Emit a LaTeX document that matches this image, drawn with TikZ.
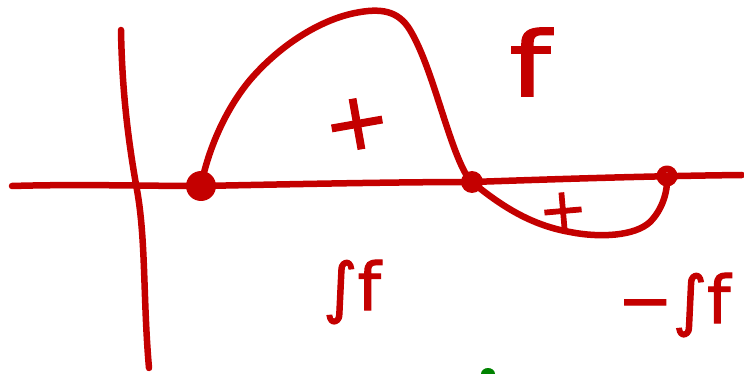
\documentclass[tikz,border=0pt]{standalone}
\usepackage{fontspec}
\newfontfamily\hand[FakeBold=1.6]{DejaVu Sans}
\definecolor{pen}{RGB}{196,0,0}
\definecolor{gpen}{RGB}{0,130,0}
\tikzset{
  stroke/.style={draw=pen, line width=6.5pt, line cap=round, line join=round},
  dotmark/.style={circle, fill=pen, inner sep=0pt},
  lbl/.style={text=pen, inner sep=0pt, font=\hand}
}
\begin{document}
\begin{tikzpicture}[x=1pt,y=-1pt]
\useasboundingbox (0,0) rectangle (744,374);
% axes
\coordinate (xl) at (12,186);
\coordinate (xr) at (742,175);
\coordinate (yt) at (121,30);
\coordinate (yb) at (149,368);
\draw[stroke] (xl) .. controls (80,184) and (140,186) .. (201,186)
  .. controls (300,184) and (400,182) .. (472,182)
  .. controls (560,179) and (650,176) .. (xr);
\draw[stroke] (yt) .. controls (122,90) and (128,140) .. (137,190)
  .. controls (146,240) and (143,300) .. (yb);
% dots
\node[dotmark, minimum size=30pt] (p1) at (201,186) {};
\node[dotmark, minimum size=22pt] (p2) at (472,182) {};
\draw[stroke, line width=7pt] (667,176) circle (7pt);
\coordinate (p3) at (667,176);
% upper hump
\draw[stroke] (p1.center) .. controls (208,150) and (225,110) .. (250,80)
  .. controls (280,45) and (320,20) .. (355,13)
  .. controls (380,8) and (398,10) .. (410,30)
  .. controls (428,60) and (440,110) .. (455,150)
  .. controls (462,168) and (466,176) .. (p2.center);
% lower dip
\draw[stroke] (p2.center) .. controls (500,205) and (530,225) .. (570,232)
  .. controls (600,238) and (635,236) .. (650,222)
  .. controls (662,210) and (668,192) .. (p3);
% labels
\node[lbl, xscale=1.3] (f) at (530,62) {\fontsize{90}{90}\selectfont f};
\node[lbl, rotate=10] (plus1) at (357,124) {\fontsize{80}{80}\selectfont +};
\node[lbl, rotate=5] (plus2) at (563,211) {\fontsize{58}{58}\selectfont +};
\node[lbl] (int1) at (352,292) {\fontsize{66}{66}\selectfont ∫f};
\node[lbl] (int2) at (674,305) {\fontsize{66}{66}\selectfont −∫f};
% green mark
\fill[gpen] (481,374) arc[start angle=180, end angle=0, x radius=7pt, y radius=6pt] -- cycle;
\end{tikzpicture}
\end{document}
